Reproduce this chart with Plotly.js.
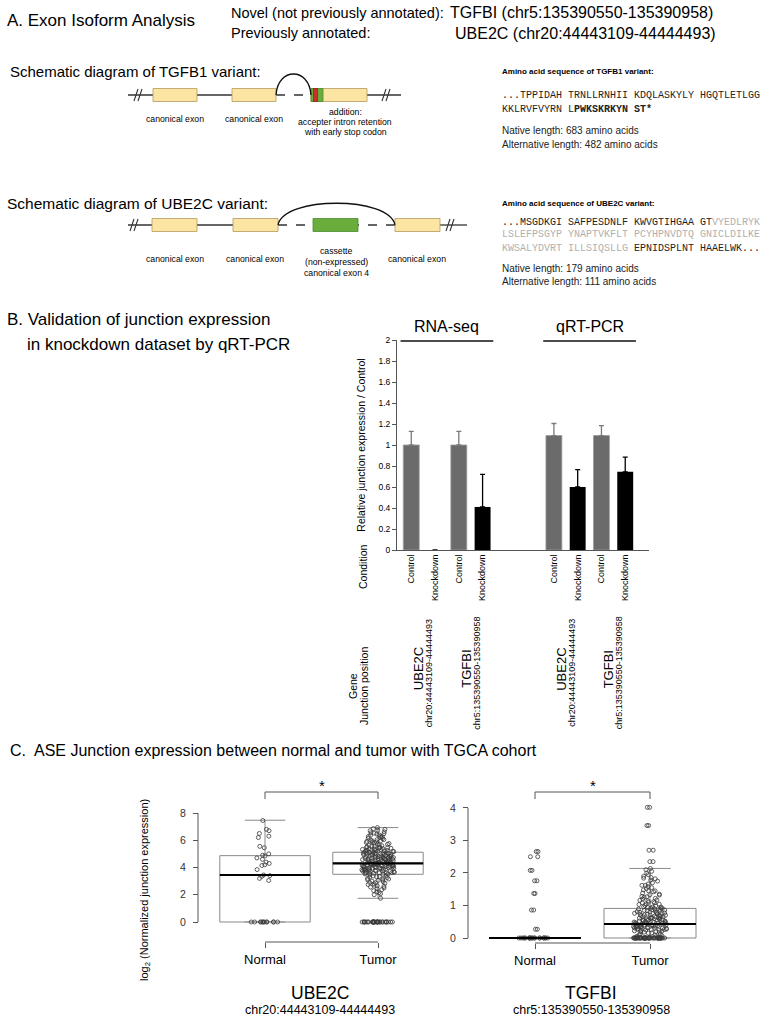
<!DOCTYPE html>
<html>
<head>
<meta charset="utf-8">
<script src="https://cdn.plot.ly/plotly-3.0.1.min.js"></script>
<style>
  body { margin: 0; background: #fff; }
  #chart { width: 772px; height: 1018px; }
</style>
</head>
<body>
<div id="chart"></div>
<script>
// B. validation of junction expression in knockdown dataset
const barMethods = ['RNA-seq', 'RNA-seq', 'RNA-seq', 'RNA-seq', 'qRT-PCR', 'qRT-PCR', 'qRT-PCR', 'qRT-PCR']
const barGenes = ['UBE2C', 'UBE2C', 'TGFBI', 'TGFBI', 'UBE2C', 'UBE2C', 'TGFBI', 'TGFBI']
const barJunctions = ['chr20:44443109-44444493', 'chr20:44443109-44444493', 'chr5:135390550-135390958', 'chr5:135390550-135390958',
                      'chr20:44443109-44444493', 'chr20:44443109-44444493', 'chr5:135390550-135390958', 'chr5:135390550-135390958']
const barConditions = ['Control', 'Knockdown', 'Control', 'Knockdown', 'Control', 'Knockdown', 'Control', 'Knockdown']
const barValues = [1.0, 0, 1.0, 0.41, 1.09, 0.60, 1.09, 0.745]
const barErrors = [0.13, NaN, 0.13, 0.31, 0.115, 0.165, 0.095, 0.14]   // no error bar on the empty knockdown

// C. log2 normalized junction expression, TCGA cohort
const boxGroups = ['Normal', 'Tumor']
const ube2cQ1 = [0, 3.5]
const ube2cMedian = [3.45, 4.31]
const ube2cQ3 = [4.87, 5.12]
const ube2cLower = [0, 1.74]
const ube2cUpper = [7.47, 6.93]
const tgfbiQ1 = [0, 0]
const tgfbiMedian = [0, 0.43]
const tgfbiQ3 = [0, 0.91]
const tgfbiLower = [0, 0]
const tgfbiUpper = [0, 2.14]

const ube2cNormal = [7.45, 6.8, 6.7, 6.5, 6.3, 6.2, 5.55, 5.45, 5.0, 4.9, 4.85, 4.7, 4.6, 4.4, 4.3, 4.2, 4.15,
  3.85, 3.45, 3.4, 3.35, 3.2, 3.05, 0, 0, 0, 0, 0, 0, 0, 0, 0, 0, 0, 0]
const ube2cTumor = [6.93, 6.85, 6.8, 6.74, 6.7, 6.62, 6.55, 6.52, 6.45, 6.4, 6.36, 6.3, 6.28, 6.2, 6.15, 6.12, 6.05,
  6.0, 5.96, 5.92, 5.88, 5.85, 5.81, 5.76, 5.72, 5.7, 5.66, 5.6, 5.58, 5.55, 5.52, 5.48, 5.45, 5.42, 5.4, 5.37,
  5.33, 5.3, 5.28, 5.25, 5.23, 5.2, 5.18, 5.16, 5.12, 5.1, 5.08, 5.05, 5.03, 5.0, 4.98, 4.95, 4.93, 4.9, 4.88,
  4.86, 4.82, 4.8, 4.78, 4.75, 4.73, 4.7, 4.68, 4.66, 4.62, 4.6, 4.58, 4.55, 4.53, 4.5, 4.48, 4.46, 4.42, 4.4,
  4.38, 4.36, 4.33, 4.31, 4.3, 4.28, 4.25, 4.23, 4.2, 4.18, 4.16, 4.12, 4.1, 4.08, 4.06, 4.02, 4.0, 3.98, 3.95,
  3.93, 3.9, 3.88, 3.86, 3.82, 3.8, 3.78, 3.75, 3.73, 3.7, 3.68, 3.65, 3.62, 3.6, 3.58, 3.55, 3.52, 3.5, 3.46,
  3.42, 3.38, 3.35, 3.3, 3.26, 3.2, 3.16, 3.1, 3.05, 3.0, 2.96, 2.9, 2.84, 2.8, 2.75, 2.7, 2.62, 2.56, 2.5,
  2.44, 2.38, 2.3, 2.22, 2.15, 2.08, 2.0, 1.74,
  4.45, 4.62, 4.12, 3.92, 5.05, 4.77, 4.27, 3.67, 4.55, 4.95, 5.22, 3.83, 4.35, 4.07, 4.71, 5.36, 3.58, 4.18,
  4.88, 4.41, 3.74, 5.14, 4.64, 4.02, 4.5, 3.88, 5.31, 4.24, 4.83, 3.62, 4.96, 4.37, 5.47, 4.15, 3.95, 4.69,
  5.02, 4.29, 3.79, 4.58, 5.19, 4.06, 4.81, 3.53, 4.43, 5.64, 4.22, 3.99, 4.74, 5.09, 6.05, 2.88, 3.15, 5.83,
  6.25, 2.65, 3.32, 5.97, 6.48, 3.08, 4.33, 4.86, 4.14, 4.57, 3.71, 5.27, 4.04, 4.66, 3.86, 5.41,
  0, 0, 0, 0, 0, 0, 0, 0, 0, 0, 0, 0, 0, 0, 0, 0, 0, 0, 0, 0, 0, 0, 0, 0, 0, 0, 0, 0, 0, 0]
const tgfbiNormal = [2.66, 2.66, 2.5, 2.5, 2.08, 2.08, 1.76, 1.76, 1.37, 1.37, 0.86, 0.86, 0.27, 0.27,
  0, 0, 0, 0, 0, 0, 0, 0, 0, 0, 0, 0, 0, 0, 0, 0, 0, 0, 0, 0]
const tgfbiTumor = [4.02, 4.02, 3.46, 3.46, 2.7, 2.7, 2.35, 2.35, 2.14, 2.1, 2.05, 2.0, 1.95, 1.9, 1.86, 1.82,
  1.78, 1.75, 1.7, 1.66, 1.62, 1.58, 1.55, 1.52, 1.48, 1.45, 1.42, 1.38, 1.35, 1.32, 1.28, 1.25, 1.22, 1.2,
  1.17, 1.14, 1.12, 1.1, 1.08, 1.05, 1.03, 1.0, 0.98, 0.96, 0.95, 0.93, 0.91, 0.9, 0.88, 0.87, 0.85, 0.83,
  0.82, 0.8, 0.79, 0.77, 0.76, 0.74, 0.73, 0.71, 0.7, 0.68, 0.67, 0.65, 0.64, 0.62, 0.61, 0.6, 0.58, 0.57,
  0.56, 0.55, 0.53, 0.52, 0.51, 0.5, 0.49, 0.47, 0.46, 0.45, 0.44, 0.43, 0.42, 0.41, 0.4, 0.39, 0.38, 0.37,
  0.36, 0.35, 0.34, 0.33, 0.32, 0.31, 0.3, 0.29, 0.28, 0.27, 0.26, 0.25, 0.24, 0.23, 0.22, 0.2, 0.19, 0.18,
  0.16, 0.15, 0.13, 0.12, 0.1, 0.09, 0.07, 0.05, 0.04, 0.02,
  0.62, 0.35, 0.48, 0.81, 0.27, 0.55, 0.92, 0.41, 0.66, 0.18, 0.73, 0.33, 0.86, 0.44, 0.58, 1.04, 0.29, 0.69,
  0.52, 0.38, 0.95, 0.21, 0.77, 0.46, 1.16, 0.6, 0.31, 0.84, 0.43, 0.71, 1.27, 0.5, 0.36, 0.64, 0.89, 1.45,
  0.25, 0.56, 1.62, 0.79, 0.4, 1.33, 0.67, 0.94, 0.47, 1.08, 0.3, 0.75, 1.84, 0.54,
  0, 0, 0, 0, 0, 0, 0, 0, 0, 0, 0, 0, 0, 0, 0, 0, 0, 0, 0, 0, 0, 0, 0, 0, 0, 0, 0, 0, 0, 0, 0, 0, 0, 0, 0,
  0, 0, 0, 0, 0, 0, 0, 0, 0, 0, 0, 0, 0, 0, 0]

const W = 772, H = 1018
const ARIAL = 'Arial, Liberation Sans, sans-serif'
const MONO = 'Liberation Mono, Courier New, monospace'

function px(x) { return x / W }
function py(y) { return 1 - y / H }
function P(x, y) { return px(x) + ',' + py(y) }

function txt(x, y, text, size, opts) {
  let a = {
    xref: 'paper', yref: 'paper', x: px(x), y: py(y), text: text, showarrow: false,
    xanchor: 'left', yanchor: 'middle', font: { family: ARIAL, size: size, color: '#000' }
  }
  return Object.assign(a, opts || {})
}

let annotations = []
let shapes = []

// ---------- panel A: text ----------
annotations.push(txt(5, 21, 'A. Exon Isoform Analysis', 17))
annotations.push(txt(229, 13, 'Novel (not previously annotated):', 14.5))
annotations.push(txt(448, 13, 'TGFBI (chr5:135390550-135390958)', 16))
annotations.push(txt(229, 33, 'Previously annotated:', 14.5))
annotations.push(txt(453, 33, 'UBE2C (chr20:44443109-44444493)', 16))
annotations.push(txt(8, 71, 'Schematic diagram of TGFB1 variant:', 15))
annotations.push(txt(5, 203, 'Schematic diagram of UBE2C variant:', 15.5))

const seqBlack = '#222', seqGrey = '#b0b0b0'
let mono = (color) => ({ font: { family: MONO, size: 10, color: color } })
let small = { font: { family: ARIAL, size: 10, color: '#222' } }
let head = { font: { family: ARIAL, size: 8, color: '#000', weight: 'bold' } }
annotations.push(txt(500, 71, 'Amino acid sequence of TGFB1 variant:', 8, head))
annotations.push(txt(500, 96, '...TPPIDAH TRNLLRNHII KDQLASKYLY HGQTLETLGG', 10, mono(seqBlack)))
annotations.push(txt(500, 109, 'KKLRVFVYRN L<b>PWKSKRKYN ST*</b>', 10, mono(seqBlack)))
annotations.push(txt(500, 131, 'Native length: 683 amino acids', 10, small))
annotations.push(txt(500, 144, 'Alternative length: 482 amino acids', 10, small))

annotations.push(txt(500, 203, 'Amino acid sequence of UBE2C variant:', 8, head))
annotations.push(txt(500, 222, '...MSGDKGI SAFPESDNLF KWVGTIHGAA GT<span style="color:' + seqGrey + '">VYEDLRYK</span>', 10, mono(seqBlack)))
annotations.push(txt(500, 235, 'LSLEFPSGYP YNAPTVKFLT PCYHPNVDTQ GNICLDILKE', 10, mono(seqGrey)))
annotations.push(txt(500, 248, 'KWSALYDVRT ILLSIQSLLG<span style="color:' + seqBlack + '"> EPNIDSPLNT HAAELWK...</span>', 10, mono(seqGrey)))
annotations.push(txt(500, 268, 'Native length: 179 amino acids', 10, small))
annotations.push(txt(500, 281, 'Alternative length: 111 amino acids', 10, small))

// ---------- panel A: schematic drawings ----------
function hline(x0, x1, y, dash) {
  shapes.push({ type: 'line', xref: 'paper', yref: 'paper', x0: px(x0), x1: px(x1), y0: py(y), y1: py(y),
    line: { color: '#333', width: 1.3, dash: dash || 'solid' } })
}
function box(x0, x1, y, fill, edge) {
  shapes.push({ type: 'rect', xref: 'paper', yref: 'paper', x0: px(x0), x1: px(x1), y0: py(y + 6.5), y1: py(y - 6.5),
    fillcolor: fill, line: { color: edge, width: 0.8 } })
}
function slash(x, y) {
  shapes.push({ type: 'path', xref: 'paper', yref: 'paper',
    path: 'M' + P(x - 4, y + 6) + 'L' + P(x, y - 6) + 'M' + P(x, y + 6) + 'L' + P(x + 4, y - 6),
    line: { color: '#333', width: 1.1 } })
}
function arc(x0, x1, y, h) {
  shapes.push({ type: 'path', xref: 'paper', yref: 'paper',
    path: 'M' + P(x0, y) + 'C' + P(x0 + (x1 - x0) * 0.05, y - h) + ' ' + P(x1 - (x1 - x0) * 0.05, y - h) + ' ' + P(x1, y),
    line: { color: '#111', width: 1.3 } })
}
const exonFill = '#fce5a2', exonEdge = '#b49a5c'

// TGFB1 variant
hline(128, 276, 95)
hline(276, 311, 95, 'dash')
hline(367, 401, 95)
slash(138, 95); slash(386, 95)
box(153, 197, 95, exonFill, exonEdge)
box(232, 276, 95, exonFill, exonEdge)
box(311, 367, 95, exonFill, exonEdge)
box(311, 323, 95, '#6aad3d', '#4d8a2c')
box(313.5, 317.5, 95, '#c8322a', '#9a1f1a')
arc(276, 311, 95, 28)
annotations.push(txt(175, 119, 'canonical exon', 8.7, { xanchor: 'center' }))
annotations.push(txt(254, 119, 'canonical exon', 8.7, { xanchor: 'center' }))
annotations.push(txt(345, 112, 'addition:', 8.7, { xanchor: 'center' }))
annotations.push(txt(345, 122, 'accepter intron retention', 8.7, { xanchor: 'center' }))
annotations.push(txt(345, 132, 'with early stop codon', 8.7, { xanchor: 'center' }))

// UBE2C variant
hline(128, 278, 225)
hline(278, 395, 225, 'dash')
hline(440, 467, 225)
slash(134, 225); slash(450, 225)
box(152, 197, 225, exonFill, exonEdge)
box(233, 278, 225, exonFill, exonEdge)
box(313, 358, 225, '#6aad3d', '#4d8a2c')
box(395, 440, 225, exonFill, exonEdge)
arc(278, 395, 225, 29)
annotations.push(txt(175, 259, 'canonical exon', 8.7, { xanchor: 'center' }))
annotations.push(txt(255, 259, 'canonical exon', 8.7, { xanchor: 'center' }))
annotations.push(txt(417, 259, 'canonical exon', 8.7, { xanchor: 'center' }))
annotations.push(txt(336, 251, 'cassette', 8.7, { xanchor: 'center' }))
annotations.push(txt(336, 262, '(non-expressed)', 8.7, { xanchor: 'center' }))
annotations.push(txt(336, 273, 'canonical exon 4', 8.7, { xanchor: 'center' }))

// ---------- panel B ----------
annotations.push(txt(5, 320, 'B. Validation of junction expression', 17))
annotations.push(txt(25, 345, 'in knockdown dataset by qRT-PCR', 17))

const barKeys = barMethods.map((m, i) => m + ' ' + barGenes[i] + ' ' + barConditions[i])
const barSlots = barKeys.slice(0, 4).concat([' ', '  '], barKeys.slice(4))

function pick(arr, cond) { return arr.filter((v, i) => barConditions[i] === cond) }

let traces = []
traces.push({
  type: 'bar', name: 'Control', x: pick(barKeys, 'Control'), y: pick(barValues, 'Control'),
  marker: { color: '#6b6b6b', line: { color: '#9c9c9c', width: 0.8 } },
  error_y: { type: 'data', symmetric: false, array: pick(barErrors, 'Control'),
    arrayminus: pick(barErrors, 'Control').map(() => 0), color: '#7a7a7a', thickness: 1.3, width: 2.5 },
  xaxis: 'x', yaxis: 'y'
})
traces.push({
  type: 'bar', name: 'Knockdown', x: pick(barKeys, 'Knockdown'), y: pick(barValues, 'Knockdown'),
  marker: { color: '#000', line: { width: 0 }, opacity: pick(barValues, 'Knockdown').map(v => v > 0 ? 1 : 0) },
  error_y: { type: 'data', symmetric: false, array: pick(barErrors, 'Knockdown'),
    arrayminus: pick(barErrors, 'Knockdown').map(() => 0), color: '#000', thickness: 1.3, width: 2.5 },
  xaxis: 'x', yaxis: 'y'
})

// method headers with underline
let methods = [...new Set(barMethods)]
methods.forEach(m => {
  let idx = barKeys.filter((k, i) => barMethods[i] === m).map(k => barSlots.indexOf(k))
  let c = (Math.min(...idx) + Math.max(...idx)) / 2
  annotations.push({ xref: 'x', yref: 'paper', x: c, y: py(327), text: m, showarrow: false,
    xanchor: 'center', yanchor: 'middle', font: { family: ARIAL, size: 16, color: '#000' } })
  shapes.push({ type: 'line', xref: 'x', yref: 'paper', x0: c - 1.95, x1: c + 1.95, y0: py(341), y1: py(341),
    line: { color: '#111', width: 1.5 } })
})

// gene / junction labels below each pair
let pairs = [...new Set(barMethods.map((m, i) => m + '|' + barGenes[i]))]
pairs.forEach(p => {
  let ids = barKeys.map((k, i) => i).filter(i => barMethods[i] + '|' + barGenes[i] === p)
  let c = ids.map(i => barSlots.indexOf(barKeys[i])).reduce((a, b) => a + b) / ids.length
  let i0 = ids[0]
  annotations.push({ xref: 'x', yref: 'paper', x: c, y: py(669), xshift: -5, text: barGenes[i0], textangle: -90,
    showarrow: false, xanchor: 'center', yanchor: 'middle', font: { family: ARIAL, size: 13, color: '#000' } })
  annotations.push({ xref: 'x', yref: 'paper', x: c, y: py(673), xshift: 6, text: barJunctions[i0], textangle: -90,
    showarrow: false, xanchor: 'center', yanchor: 'middle', font: { family: ARIAL, size: 9, color: '#000' } })
})

annotations.push(txt(363, 567, 'Condition', 10.5, { xanchor: 'center', textangle: -90 }))
annotations.push(txt(353, 686, 'Gene', 10.5, { xanchor: 'center', textangle: -90 }))
annotations.push(txt(364, 686, 'Junction position', 10.5, { xanchor: 'center', textangle: -90 }))

// ---------- panel C ----------
annotations.push(txt(8, 750, 'C.  ASE Junction expression between normal and tumor with TGCA cohort', 16))
annotations.push(txt(145, 890, 'log<sub>2</sub> (Normalized junction expression)', 11, { xanchor: 'center', textangle: -90 }))

function boxTraces(xa, ya, q1, med, q3, lo, hi, samples) {
  let out = []
  out.push({ type: 'box', x: boxGroups, q1: q1, median: med, q3: q3, lowerfence: lo, upperfence: hi,
    boxpoints: false, whiskerwidth: 0.45, fillcolor: 'rgba(255,255,255,0)',
    line: { color: '#8a8a8a', width: 1 }, xaxis: xa, yaxis: ya, hoverinfo: 'skip' })
  boxGroups.forEach((g, i) => {
    out.push({ type: 'box', x: samples[i].map(() => g), y: samples[i], boxpoints: 'all', jitter: 0.36, pointpos: 0,
      fillcolor: 'rgba(0,0,0,0)', line: { color: 'rgba(0,0,0,0)', width: 0 }, whiskerwidth: 0,
      marker: { symbol: 'circle-open', size: 4, color: '#3a3a3a', line: { width: 0.8 } },
      xaxis: xa, yaxis: ya, hoverinfo: 'skip' })
  })
  out.push({ type: 'box', x: boxGroups, q1: med, median: med, q3: med, lowerfence: med, upperfence: med,
    boxpoints: false, whiskerwidth: 0, fillcolor: 'rgba(0,0,0,0)',
    line: { color: '#000', width: 2.2 }, xaxis: xa, yaxis: ya, hoverinfo: 'skip' })
  return out
}
traces = traces.concat(boxTraces('x2', 'y2', ube2cQ1, ube2cMedian, ube2cQ3, ube2cLower, ube2cUpper, [ube2cNormal, ube2cTumor]))
traces = traces.concat(boxTraces('x3', 'y3', tgfbiQ1, tgfbiMedian, tgfbiQ3, tgfbiLower, tgfbiUpper, [tgfbiNormal, tgfbiTumor]))

// axis lines and significance brackets
function cDecor(xa, ya, axisX, ymax, topY, botY) {
  shapes.push({ type: 'line', xref: 'paper', yref: ya, x0: px(axisX), x1: px(axisX), y0: 0, y1: ymax,
    line: { color: '#555', width: 1 } })
  shapes.push({ type: 'line', xref: xa, yref: 'paper', x0: 0, x1: 1, y0: py(botY), y1: py(botY), line: { color: '#555', width: 1 } })
  shapes.push({ type: 'path', xref: xa, yref: 'paper',
    path: 'M0,' + py(topY + 7) + 'L0,' + py(topY) + 'L1,' + py(topY) + 'L1,' + py(topY + 7), line: { color: '#555', width: 1 } })
  annotations.push({ xref: xa, yref: 'paper', x: 0.5, y: py(topY - 7), text: '*', showarrow: false,
    xanchor: 'center', yanchor: 'middle', font: { family: ARIAL, size: 15, color: '#000' } })
}
cDecor('x2', 'y2', 198, 8, 792, 942)
cDecor('x3', 'y3', 468, 4, 792, 943)

annotations.push(txt(320, 993, 'UBE2C', 17.5, { xanchor: 'center' }))
annotations.push(txt(320, 1010, 'chr20:44443109-44444493', 12.5, { xanchor: 'center' }))
annotations.push(txt(591, 993, 'TGFBI', 17.5, { xanchor: 'center' }))
annotations.push(txt(591, 1010, 'chr5:135390550-135390958', 12.5, { xanchor: 'center' }))

const layout = {
  width: W, height: H, margin: { l: 0, r: 0, t: 0, b: 0 },
  paper_bgcolor: '#fff', plot_bgcolor: 'rgba(0,0,0,0)', showlegend: false,
  font: { family: ARIAL, color: '#000' },
  barmode: 'overlay', bargap: 0.33, boxmode: 'overlay', boxgap: 0.2, boxgroupgap: 0,
  xaxis: {
    domain: [px(397), px(649)], anchor: 'y', type: 'category', categoryorder: 'array', categoryarray: barSlots,
    range: [-0.6, 10], tickmode: 'array', tickvals: barKeys, ticktext: barConditions, tickangle: -90,
    tickfont: { size: 9 }, ticks: '', showline: true, linecolor: '#555', linewidth: 1, showgrid: false, zeroline: false
  },
  yaxis: {
    domain: [py(550), py(340)], anchor: 'x', range: [0, 2], dtick: 0.2, ticks: 'outside', ticklen: 4, tickcolor: '#555',
    showline: true, linecolor: '#555', linewidth: 1, showgrid: false, zeroline: false, tickfont: { size: 8.5 },
    title: { text: 'Relative junction expression / Control', font: { size: 10.5 }, standoff: 10 }
  },
  xaxis2: {
    domain: [px(208.5), px(434.5)], anchor: 'free', position: py(942), type: 'category', range: [-0.5, 1.5],
    ticks: 'outside', ticklen: 5, tickcolor: '#555', showline: false, showgrid: false, zeroline: false, tickfont: { size: 13 }
  },
  yaxis2: {
    domain: [py(926.77), py(808.91)], anchor: 'free', position: px(198), range: [-0.35, 8.3], tickvals: [0, 2, 4, 6, 8],
    ticks: 'outside', ticklen: 5, tickcolor: '#555', showline: false, showgrid: false, zeroline: false,
    ticklabelstandoff: 5, tickfont: { size: 10.5, color: '#333' }
  },
  xaxis3: {
    domain: [px(477.5), px(707.5)], anchor: 'free', position: py(943), type: 'category', range: [-0.5, 1.5],
    ticks: 'outside', ticklen: 5, tickcolor: '#555', showline: false, showgrid: false, zeroline: false, tickfont: { size: 13 }
  },
  yaxis3: {
    domain: [py(943.85), py(803.1)], anchor: 'free', position: px(468), range: [-0.18, 4.15], tickvals: [0, 1, 2, 3, 4],
    ticks: 'outside', ticklen: 5, tickcolor: '#555', showline: false, showgrid: false, zeroline: false,
    ticklabelstandoff: 5, tickfont: { size: 10.5, color: '#333' }
  },
  shapes: shapes,
  annotations: annotations
}

Plotly.newPlot('chart', traces, layout, { displayModeBar: false, staticPlot: true })
</script>
</body>
</html>
